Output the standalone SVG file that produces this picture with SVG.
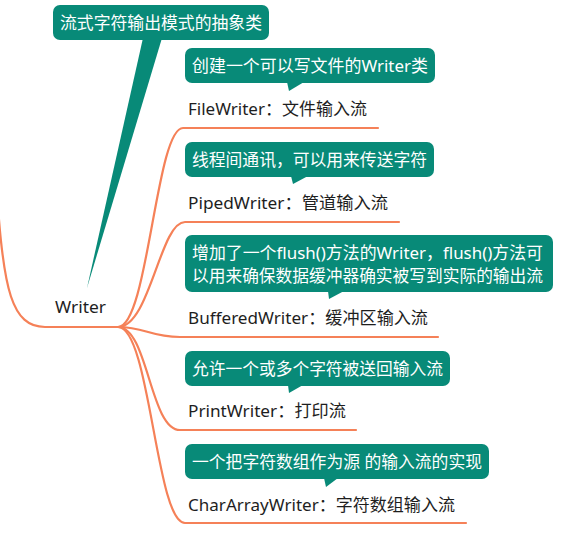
<svg xmlns="http://www.w3.org/2000/svg" width="568" height="534" viewBox="0 0 568 534">
<style>
.ln{fill:none;stroke:#f58158;stroke-width:2.2;stroke-linecap:round}
.co{fill:#088a78}
.ct{fill:#ffffff;font-family:"Noto Sans","Noto Sans CJK SC",sans-serif;font-size:16.7px}
.lb{fill:#1e1e1e;font-family:"Noto Sans","Noto Sans CJK SC",sans-serif;font-size:16.5px}
</style>
<rect width="568" height="534" fill="#ffffff"/>
<g id="connectors">
<path class="ln" d="M-3 192 C 3 290 12 327 45 327 L 118 327"/>
<path class="ln" d="M118 327 C 148 327 156 128 183 128 L 378 128"/>
<path class="ln" d="M118 327 C 150 327 160 222 185 222 L 399 222"/>
<path class="ln" d="M118 327 C 145 327 150 337 180 337 L 438 337"/>
<path class="ln" d="M118 327 C 148 327 150 430 180 430 L 356 430"/>
<path class="ln" d="M118 327 C 150 327 156 523 185 523 L 466 523"/>
</g>
<g id="root">
<path class="co" d="M143 38 L162 38 L87 288 Z"/>
<rect class="co" x="53" y="5" width="216" height="35" rx="7"/>
<text class="ct" x="60" y="29" textLength="202" lengthAdjust="spacingAndGlyphs">流式字符输出模式的抽象类</text>
<text class="lb" x="55" y="313" textLength="51" lengthAdjust="spacingAndGlyphs">Writer</text>
</g>
<g id="n1">
<rect class="co" x="185" y="48" width="250" height="35" rx="7"/>
<path class="co" d="M287 82 L289 91 L304 82 Z"/>
<text class="ct" x="192" y="72" textLength="236" lengthAdjust="spacingAndGlyphs">创建一个可以写文件的Writer类</text>
<text class="lb" x="188" y="115" textLength="179" lengthAdjust="spacingAndGlyphs">FileWriter：文件输入流</text>
</g>
<g id="n2">
<rect class="co" x="185" y="142" width="249" height="35" rx="7"/>
<path class="co" d="M291 176 L293 184 L308 176 Z"/>
<text class="ct" x="192" y="166" textLength="235" lengthAdjust="spacingAndGlyphs">线程间通讯，可以用来传送字符</text>
<text class="lb" x="188" y="209" textLength="200" lengthAdjust="spacingAndGlyphs">PipedWriter：管道输入流</text>
</g>
<g id="n3">
<rect class="co" x="185" y="235" width="368" height="57" rx="7"/>
<path class="co" d="M328 291 L329 299 L344 291 Z"/>
<text class="ct" x="192" y="259" textLength="351" lengthAdjust="spacingAndGlyphs">增加了一个flush()方法的Writer，flush()方法可</text>
<text class="ct" x="192" y="282" textLength="351" lengthAdjust="spacingAndGlyphs">以用来确保数据缓冲器确实被写到实际的输出流</text>
<text class="lb" x="188" y="324" textLength="240" lengthAdjust="spacingAndGlyphs">BufferedWriter：缓冲区输入流</text>
</g>
<g id="n4">
<rect class="co" x="185" y="351" width="265" height="35" rx="7"/>
<path class="co" d="M288 385 L289 393 L303 385 Z"/>
<text class="ct" x="192" y="375" textLength="251" lengthAdjust="spacingAndGlyphs">允许一个或多个字符被送回输入流</text>
<text class="lb" x="188" y="417" textLength="158" lengthAdjust="spacingAndGlyphs">PrintWriter：打印流</text>
</g>
<g id="n5">
<rect class="co" x="185" y="444" width="304" height="35" rx="7"/>
<path class="co" d="M324 478 L326 487 L338 478 Z"/>
<text class="ct" x="192" y="468" textLength="290" lengthAdjust="spacingAndGlyphs">一个把字符数组作为源 的输入流的实现</text>
<text class="lb" x="188" y="511" textLength="267" lengthAdjust="spacingAndGlyphs">CharArrayWriter：字符数组输入流</text>
</g>
</svg>
